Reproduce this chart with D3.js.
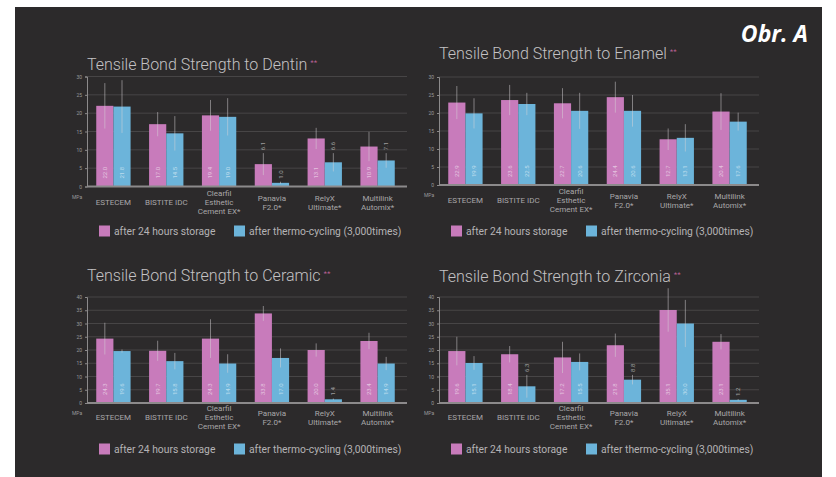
<!DOCTYPE html>
<html>
    <head>
        <style>
            body { margin: 0; background: #fff; }
            svg { display: block; }
        </style>
    </head>
    <body>
        <svg></svg>

        <script src="https://cdn.jsdelivr.net/npm/d3@7"></script>

        <script>
            // categories and labels
            const groups = ["ESTECEM", "BISTITE IDC", "Clearfil Esthetic Cement EX", "Panavia F2.0", "RelyX Ultimate", "Multilink Automix"];
            const groupLines = [["ESTECEM"], ["BISTITE IDC"], ["Clearfil", "Esthetic", "Cement EX*"], ["Panavia", "F2.0*"], ["RelyX", "Ultimate*"], ["Multilink", "Automix*"]];
            const titles = ["Tensile Bond Strength to Dentin", "Tensile Bond Strength to Enamel", "Tensile Bond Strength to Ceramic", "Tensile Bond Strength to Zirconia"];
            const seriesNames = ["after 24 hours storage", "after thermo-cycling (3,000times)"];

            // MPa values (mean) and standard deviations
            const dentin24 = [22.0, 17.0, 19.4, 6.1, 13.1, 10.9];
            const dentin24Sd = [6.2, 3.3, 4.2, 3.0, 2.9, 4.0];
            const dentinTc = [21.8, 14.5, 19.0, 1.0, 6.6, 7.1];
            const dentinTcSd = [7.2, 4.7, 5.1, 0.3, 2.5, 2.0];

            const enamel24 = [22.9, 23.6, 22.7, 24.4, 12.7, 20.4];
            const enamel24Sd = [4.6, 4.2, 4.2, 4.3, 3.0, 5.1];
            const enamelTc = [19.9, 22.5, 20.6, 20.6, 13.1, 17.6];
            const enamelTcSd = [4.2, 3.1, 5.0, 4.4, 3.8, 2.5];

            const ceramic24 = [24.3, 19.7, 24.3, 33.8, 20.0, 23.4];
            const ceramic24Sd = [6.0, 3.8, 7.3, 2.8, 2.5, 3.1];
            const ceramicTc = [19.6, 15.8, 14.9, 17.0, 1.4, 14.9];
            const ceramicTcSd = [0.6, 3.1, 3.5, 3.6, 0.3, 2.5];

            const zirconia24 = [19.6, 18.4, 17.2, 21.8, 35.1, 23.1];
            const zirconia24Sd = [5.4, 3.1, 5.9, 4.4, 8.2, 2.9];
            const zirconiaTc = [15.1, 6.3, 15.5, 8.8, 30.0, 1.2];
            const zirconiaTcSd = [2.6, 4.3, 3.2, 1.8, 8.9, 0.3];

            const yMaxes = [30, 30, 40, 40];

            const colors = ["#c87bbb", "#6cb4da"];

            const width = 836,
                height = 477;

            // where each of the four small charts sits
            const layout = [
                { x: 87, y0: 186.5, yTop: 76.5, titleY: 70, labelY: 202, legendY: 231 },
                { x: 439, y0: 185, yTop: 77, titleY: 59, labelY: 200, legendY: 231 },
                { x: 87, y0: 403, yTop: 297, titleY: 281, labelY: 417, legendY: 449 },
                { x: 439, y0: 403, yTop: 297, titleY: 282, labelY: 417, legendY: 449 }
            ];

            const charts = [
                [[dentin24, dentin24Sd], [dentinTc, dentinTcSd]],
                [[enamel24, enamel24Sd], [enamelTc, enamelTcSd]],
                [[ceramic24, ceramic24Sd], [ceramicTc, ceramicTcSd]],
                [[zirconia24, zirconia24Sd], [zirconiaTc, zirconiaTcSd]]
            ];

            const svg = d3.select("svg")
                        .attr("width", width)
                        .attr("height", height);

            svg.append("rect")
                .attr("x", 15)
                .attr("y", 7)
                .attr("width", 807)
                .attr("height", 470)
                .attr("fill", "#2c2a2b");

            svg.append("text")
                .attr("x", 808)
                .attr("y", 42)
                .attr("text-anchor", "end")
                .attr("fill", "#fff")
                .style("font-family", "'Open Sans', sans-serif")
                .style("font-weight", "bold")
                .style("font-style", "italic")
                .style("font-size", "23px")
                .text("Obr. A");

            charts.forEach(function(series, ci) {
                const L = layout[ci];
                const plotW = 317;
                const g = svg.append("g");

                const y = d3.scaleLinear()
                            .domain([0, yMaxes[ci]])
                            .range([L.y0, L.yTop]);

                const x0 = d3.scaleBand()
                            .domain(groups)
                            .range([L.x, L.x + plotW])
                            .paddingInner(0.35)
                            .paddingOuter(0.175);

                const x1 = d3.scaleBand()
                            .domain([0, 1])
                            .range([0, x0.bandwidth()]);

                // title with pink asterisks
                const t = g.append("text")
                    .attr("x", L.x)
                    .attr("y", L.titleY)
                    .attr("fill", "#c4c2c4")
                    .style("font-family", "Roboto, sans-serif")
                    .style("font-weight", 300)
                    .style("font-size", "16px")
                    .text(titles[ci]);
                t.append("tspan")
                    .attr("dx", 3)
                    .attr("dy", -5)
                    .attr("fill", "#d06aa8")
                    .style("font-size", "8px")
                    .text("**");

                // grid lines
                const ticks = d3.range(0, yMaxes[ci] + 1, 5);
                g.selectAll(".grid")
                    .data(ticks.slice(1))
                    .enter()
                    .append("line")
                    .attr("x1", L.x)
                    .attr("x2", L.x + plotW + 3)
                    .attr("y1", function(d) { return y(d); })
                    .attr("y2", function(d) { return y(d); })
                    .attr("stroke", "#474546")
                    .attr("stroke-width", 1);

                // y axis
                const yAxis = d3.axisLeft(y)
                            .tickValues(ticks)
                            .tickSize(2)
                            .tickPadding(3);
                const ax = g.append("g")
                    .attr("transform", "translate(" + L.x + ",0)")
                    .call(yAxis);
                ax.select(".domain").attr("stroke", "#8c8a8b");
                ax.selectAll(".tick line").attr("stroke", "#8c8a8b");
                ax.selectAll(".tick text")
                    .attr("fill", "#9a989a")
                    .style("font-family", "Roboto, sans-serif")
                    .style("font-size", "5px");

                g.append("text")
                    .attr("x", L.x - 15)
                    .attr("y", L.y0 + 12)
                    .attr("fill", "#9a989a")
                    .style("font-family", "Roboto, sans-serif")
                    .style("font-size", "5px")
                    .text("MPa");

                // bars
                series.forEach(function(s, si) {
                    const vals = s[0], sds = s[1];
                    const bars = g.selectAll(".bar" + si)
                        .data(groups)
                        .enter()
                        .append("g");

                    bars.append("rect")
                        .attr("x", function(d) { return x0(d) + x1(si); })
                        .attr("y", function(d, i) { return y(vals[i]); })
                        .attr("width", x1.bandwidth())
                        .attr("height", function(d, i) { return L.y0 - y(vals[i]); })
                        .attr("fill", colors[si]);

                    bars.append("line")
                        .attr("x1", function(d) { return x0(d) + x1(si) + x1.bandwidth() / 2; })
                        .attr("x2", function(d) { return x0(d) + x1(si) + x1.bandwidth() / 2; })
                        .attr("y1", function(d, i) { return y(Math.max(0, vals[i] - sds[i])); })
                        .attr("y2", function(d, i) { return y(vals[i] + sds[i]); })
                        .attr("stroke", "#d8d4d8")
                        .attr("stroke-opacity", 0.5)
                        .attr("stroke-width", 1);

                    // rotated value labels
                    bars.append("text")
                        .attr("transform", function(d, i) {
                            const cx = x0(d) + x1(si) + x1.bandwidth() / 2 + 2;
                            const short = L.y0 - y(vals[i]) < 28;
                            const cy = short ? y(vals[i] + sds[i]) - 3 : L.y0 - 8;
                            return "translate(" + cx + "," + cy + ") rotate(-90)";
                        })
                        .attr("fill", "#fff")
                        .attr("fill-opacity", 0.55)
                        .style("font-family", "Roboto, sans-serif")
                        .style("font-size", "6px")
                        .text(function(d, i) { return vals[i].toFixed(1); });
                });

                // zero line
                g.append("line")
                    .attr("x1", L.x)
                    .attr("x2", L.x + plotW + 3)
                    .attr("y1", y(0))
                    .attr("y2", y(0))
                    .attr("stroke", "#8c8a8b")
                    .attr("stroke-width", 2);

                // category labels
                const lab = g.selectAll(".lab")
                    .data(groups)
                    .enter()
                    .append("text")
                    .attr("text-anchor", "middle")
                    .attr("fill", "#a9a7a9")
                    .style("font-family", "Roboto, sans-serif")
                    .style("font-size", "8px");
                lab.each(function(d, i) {
                    const lines = groupLines[i];
                    const sel = d3.select(this);
                    lines.forEach(function(line, li) {
                        sel.append("tspan")
                            .attr("x", x0(d) + x0.bandwidth() / 2)
                            .attr("y", L.labelY + 3 + (li - (lines.length - 1) / 2) * 9)
                            .text(line);
                    });
                });

                // legend
                const leg = g.selectAll(".leg")
                    .data(seriesNames)
                    .enter()
                    .append("g")
                    .attr("transform", function(d, i) { return "translate(" + (L.x + 12 + i * 135) + "," + (L.legendY - 5.5) + ")"; });
                leg.append("rect")
                    .attr("width", 11)
                    .attr("height", 11)
                    .attr("fill", function(d, i) { return colors[i]; });
                leg.append("text")
                    .attr("x", 15)
                    .attr("y", 9)
                    .attr("fill", "#b5b3b5")
                    .style("font-family", "Roboto, sans-serif")
                    .style("font-size", "10.3px")
                    .text(function(d) { return d; });
            });
        </script>
    </body>
</html>
